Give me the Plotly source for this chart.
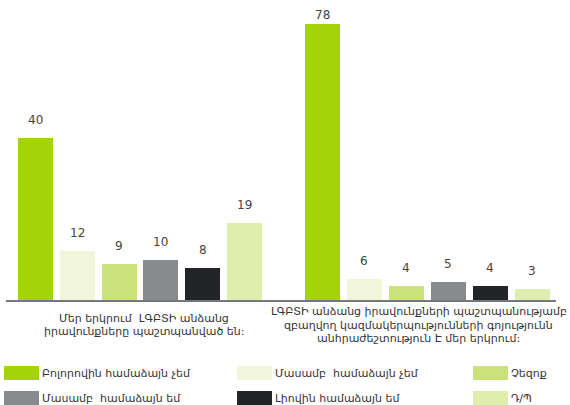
import plotly.graph_objects as go

# ---- data ----
categories = [
    "Մեր երկրում  ԼԳԲՏԻ անձանց\nիրավունքները պաշտպանված են:",
    "ԼԳԲՏԻ անձանց իրավունքների պաշտպանությամբ\nզբաղվող կազմակերպությունների գոյությունն\nանհրաժեշտություն Է մեր երկրում:",
]
series_names = [
    "Բոլորովին համաձայն չեմ",
    "Մասամբ  համաձայն չեմ",
    "Չեզոք",
    "Մասամբ  համաձայն եմ",
    "Լիովին համաձայն եմ",
    "Դ/Պ",
]
values_q1 = [40, 12, 9, 10, 8, 19]
values_q2 = [78, 6, 4, 5, 4, 3]
colors = ["#A4D309", "#F1F5D9", "#CBE27A", "#878B8D", "#232428", "#DFEDAD"]

# ---- layout constants ----
W, H = 570, 405
ML, MR, MT, MB = 6, 14, 0, 105
PW, PH = W - ML - MR, H - MT - MB
FONT = "DejaVu Sans"
y_ranges = [74.2, 84.8]
x_ranges = [[-0.706, 5.873], [-0.988, 5.56]]
bar_widths = [0.837, 0.833]

fig = go.Figure()
groups = [values_q1, values_q2]
for g, vals in enumerate(groups):
    xa = "x" if g == 0 else "x2"
    ya = "y" if g == 0 else "y2"
    for i, (name, v, c) in enumerate(zip(series_names, vals, colors)):
        fig.add_trace(go.Bar(
            x=[i], y=[v], name=name, marker=dict(color=c, line=dict(width=0)),
            width=bar_widths[g], xaxis=xa, yaxis=ya, showlegend=False,
            hoverinfo="skip",
        ))
        px_to_top = (y_ranges[g] - v) * PH / y_ranges[g]
        fig.add_annotation(
            x=i, y=v, xref=xa, yref=ya, text=str(v), showarrow=False,
            yanchor="middle", yshift=min(18, px_to_top - 15),
            font=dict(family=FONT, size=12, color="#444444"),
        )

# category labels (one annotation per line for tight line spacing)
line_gap = 13.5
for g, cat in enumerate(categories):
    lines = cat.split("\n")
    xr = "x domain" if g == 0 else "x2 domain"
    n = len(lines)
    for k, ln in enumerate(lines):
        offset = 25 + (k - (n - 1) / 2) * line_gap
        fig.add_annotation(
            x=0.5, y=0, xref=xr, yref="paper", text=ln, showarrow=False,
            yanchor="middle", xanchor="center", yshift=-offset,
            font=dict(family=FONT, size=11, color="#333333"),
        )

# custom legend (3 columns x 2 rows)
col_x = [4, 237, 473]
row_y = [373, 398]
sw_w, sw_h = 35, 14
for i, (name, c) in enumerate(zip(series_names, colors)):
    cx = col_x[i % 3]
    cy = row_y[i // 3]
    fig.add_shape(
        type="rect", xref="paper", yref="paper",
        x0=(cx - ML) / PW, x1=(cx + sw_w - ML) / PW,
        y0=(H - MB - (cy - sw_h / 2)) / PH, y1=(H - MB - (cy + sw_h / 2)) / PH,
        fillcolor=c, line=dict(width=0),
    )
    fig.add_annotation(
        x=(cx + sw_w + 1 - ML) / PW, y=(H - MB - cy) / PH, xref="paper", yref="paper",
        text=name, showarrow=False, xanchor="left", yanchor="middle",
        font=dict(family=FONT, size=11, color="#333333"),
    )

axis_common = dict(showgrid=False, zeroline=False, showticklabels=False, ticks="")
fig.update_layout(
    width=W, height=H,
    margin=dict(l=ML, r=MR, t=MT, b=MB),
    paper_bgcolor="white", plot_bgcolor="white",
    showlegend=False,
    bargap=0,
    xaxis=dict(domain=[0, 0.5], range=x_ranges[0], showline=True,
               linecolor="#76797B", linewidth=2, **axis_common),
    xaxis2=dict(domain=[0.5, 1], range=x_ranges[1], showline=True,
                linecolor="#76797B", linewidth=2, anchor="y2", **axis_common),
    yaxis=dict(range=[0, y_ranges[0]], showline=False, **axis_common),
    yaxis2=dict(range=[0, y_ranges[1]], showline=False, anchor="x2", **axis_common),
    font=dict(family=FONT),
)

fig.write_html("out.html", config={"displayModeBar": False},
               post_script="document.body.style.margin='0';")
